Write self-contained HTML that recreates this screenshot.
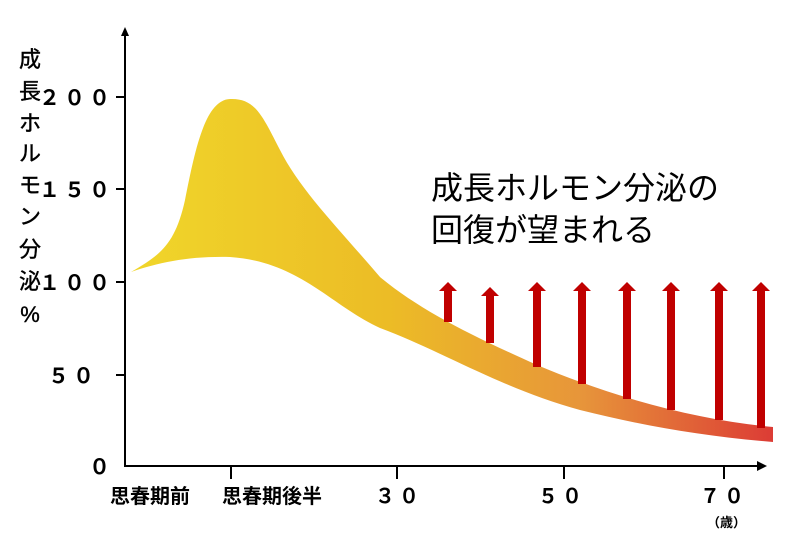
<!DOCTYPE html>
<html><head><meta charset="utf-8"><style>
body{margin:0;background:#fff;}
svg text{font-family:"Liberation Sans","Noto Sans CJK JP",sans-serif;}
</style></head><body>
<svg width="791" height="538" viewBox="0 0 791 538" xmlns="http://www.w3.org/2000/svg">
<defs>
<linearGradient id="g" x1="131" y1="0" x2="775" y2="0" gradientUnits="userSpaceOnUse">
<stop offset="0" stop-color="#f0d62a"/>
<stop offset="0.4" stop-color="#ecbc26"/>
<stop offset="0.7" stop-color="#e7953a"/>
<stop offset="1" stop-color="#dc3b35"/>
</linearGradient>
</defs>
<path d="M131,272 C160,255 175,245 185,200 C195,150 205,100 230,99 C255,98 262,115 280,150 C300,190 340,230 380,277 C420,310 470,335 537,365 C620,400 700,420 773,427 L773,442 C700,436 640,425 580,410 C500,388 440,350 380,328 C330,305 300,262 230,257 C190,256 160,262 131,272 Z" fill="url(#g)"/>
<g fill="#c00000">
<rect x="444" y="290" width="8" height="32"/><polygon points="439,291 448,282 457,291"/>
<rect x="486" y="295" width="8" height="48"/><polygon points="481,296 490,287 499,296"/>
<rect x="533" y="290" width="8" height="77"/><polygon points="528,291 537,282 546,291"/>
<rect x="578" y="290" width="8" height="94"/><polygon points="573,291 582,282 591,291"/>
<rect x="623" y="290" width="8" height="109"/><polygon points="618,291 627,282 636,291"/>
<rect x="667" y="290" width="8" height="120"/><polygon points="662,291 671,282 680,291"/>
<rect x="715" y="290" width="8" height="130"/><polygon points="710,291 719,282 728,291"/>
<rect x="757" y="290" width="8" height="138"/><polygon points="752,291 761,282 770,291"/>
</g>
<g stroke="#000" stroke-width="2" fill="none">
<line x1="125" y1="36" x2="125" y2="467"/>
<line x1="124" y1="466" x2="758" y2="466"/>
<line x1="116" y1="97" x2="125" y2="97"/>
<line x1="116" y1="189" x2="125" y2="189"/>
<line x1="116" y1="282" x2="125" y2="282"/>
<line x1="116" y1="375" x2="125" y2="375"/>
<line x1="231" y1="466" x2="231" y2="479"/>
<line x1="397" y1="466" x2="397" y2="479"/>
<line x1="564" y1="466" x2="564" y2="479"/>
<line x1="724" y1="466" x2="724" y2="479"/>
</g>
<polygon points="121,36 125,27 129,36" fill="#000"/>
<polygon points="757,461 767,466 757,471" fill="#000"/>
<g font-size="21" font-weight="bold" fill="#000" text-anchor="end" letter-spacing="4">
<text x="114" y="105">２００</text>
<text x="114" y="197">１５０</text>
<text x="114" y="290">１００</text>
<text x="98" y="383">５０</text>
<text x="114" y="474">０</text>
</g>
<g font-size="22" fill="#000" text-anchor="middle" stroke="#000" stroke-width="0.4">
<text x="30" y="67">成</text><text x="30" y="99">長</text><text x="30" y="131">ホ</text>
<text x="30" y="161">ル</text><text x="30" y="193">モ</text><text x="30" y="224">ン</text>
<text x="30" y="257">分</text><text x="30" y="289">泌</text><text x="30" y="322">%</text>
</g>
<g font-size="20" font-weight="bold" fill="#000">
<text x="110" y="503">思春期前</text>
<text x="222" y="503">思春期後半</text>
<text x="375" y="503" letter-spacing="4">３０</text>
<text x="538" y="503" letter-spacing="4">５０</text>
<text x="700" y="503" letter-spacing="4">７０</text>
<text x="707" y="527" font-size="13">（歳）</text>
</g>
<g font-size="32" fill="#000">
<text x="431" y="199">成長ホルモン分泌の</text>
<text x="431" y="241">回復が望まれる</text>
</g>
</svg>
</body></html>
